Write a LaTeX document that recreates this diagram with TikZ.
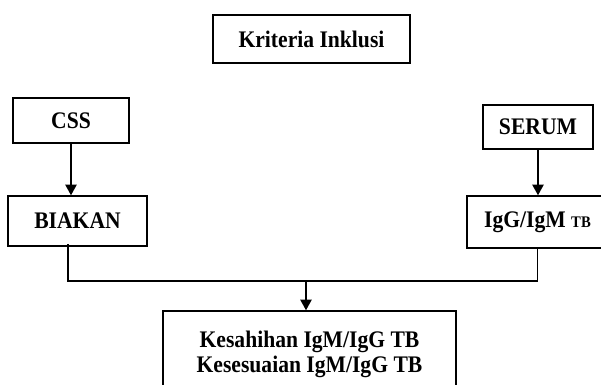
\documentclass[tikz,border=0pt]{standalone}
\usepackage{fontspec}
\usepackage{graphicx}
\setmainfont{Liberation Serif}
\usetikzlibrary{arrows.meta}

\newcommand\tinggi[1]{\scalebox{1}[1.1]{#1}}

\tikzset{every picture/.style={line width=1.1pt}}
\tikzset{kotak/.style={draw, inner sep=0pt, align=center, font=\fontsize{16.2}{17.25}\selectfont\bfseries},
         panah/.style={-{Triangle[width=8.5pt,length=8pt]}}}

\begin{document}
\begin{tikzpicture}[x=0.75pt,y=0.75pt,yscale=-1,xscale=1]
    \useasboundingbox (0,0) rectangle (601,385);
    \clip (0,0) rectangle (601,385);

    % Kriteria Inklusi
    \node [kotak, minimum width=147.75pt, minimum height=36pt] (krit) at (311.5,39) {\tinggi{Kriteria Inklusi}};

    % kiri
    \node [kotak, minimum width=87pt, minimum height=33.75pt] (css) at (71,120.5) {\tinggi{CSS}};
    \node [kotak, minimum width=104.25pt, minimum height=37.5pt] (biakan) at (77.5,221) {\tinggi{BIAKAN}};

    % kanan
    \node [kotak, minimum width=82.5pt, minimum height=33pt] (serum) at (538,127) {\tinggi{SERUM}};
    \node [kotak, minimum width=105.75pt, minimum height=39pt] (igg) at (537.5,222) {\tinggi{IgG/IgM {\fontsize{11}{13}\selectfont TB}}};

    % hasil
    \node [kotak, minimum width=219.75pt, minimum height=66pt] (hasil) at (309.5,355) {\tinggi{\begin{tabular}{@{}c@{}}Kesahihan IgM/IgG TB\\Kesesuaian IgM/IgG TB\end{tabular}}};

    \coordinate (gabung) at (306,281);

    % Straight Lines
    \draw [panah] (css.south) -- (css.south |- biakan.north);
    \draw [panah] (serum.south) -- (serum.south |- igg.north);
    \draw ([xshift=-7pt,yshift=-2pt]biakan.south) |- (gabung) -| (igg.south);
    \draw [panah] (gabung) -- (gabung |- hasil.north);

\end{tikzpicture}
\end{document}
